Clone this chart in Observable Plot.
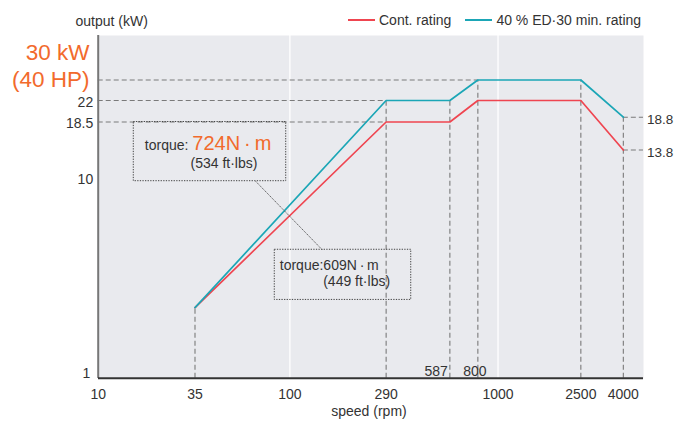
<!DOCTYPE html>
<html>
<head>
<meta charset="utf-8">
<script src="https://cdn.jsdelivr.net/npm/d3@7"></script>
<script src="https://cdn.jsdelivr.net/npm/@observablehq/plot@0.6"></script>
<style>
  body { margin: 0; background: #fff; font-family: "Liberation Sans", Arial, sans-serif; }
  #chart { position: relative; width: 674px; height: 423px; }
  .legend { position: absolute; top: 11.5px; left: 348px; display: flex; align-items: center;
            font-size: 14px; line-height: 16px; color: #333; white-space: nowrap; }
  .legend .sw { display: inline-block; width: 27px; height: 2px; margin-right: 4px; }
  .legend .item { display: flex; align-items: center; margin-right: 14px; }
</style>
</head>
<body>
<div id="chart"></div>
<script>
// Output curves of the spindle motor (log speed vs. log output)
const speedTicks = [10, 35, 100, 290, 1000, 2500, 4000];
const cornerSpeedLabels = [587, 800];
const outputTicks = [10, 18.5, 22];
const outputBase = 1;
const ratedOutput = 30;             // kW (40 HP)
const gridSpeeds = [100, 1000];

const seriesNames = ["Cont. rating", "40 % ED·30 min. rating"];
const seriesColors = ["#ef4550", "#1ba6b6"];
const speed      = [35, 290, 587, 800, 2500, 4000];
const contRating = [2.25, 18.5, 18.5, 22, 22, 13.8];
const edRating   = [2.25, 22, 22, 30, 30, 18.8];
const endLabels  = [edRating[5], contRating[5]];

const orange = "#f26a2c";
const ink = "#333";
const guide = {stroke: "#7a7a7a", strokeWidth: 1.1, strokeDasharray: "5,3"};

const rows = speed.flatMap((s, i) => [
  {speed: s, kW: contRating[i], series: seriesNames[0]},
  {speed: s, kW: edRating[i], series: seriesNames[1]}
]);

// dashed guides from the y axis to the corner points
const leftGuides = [
  {kW: contRating[1], to: speed[1]},
  {kW: edRating[1], to: speed[1]},
  {kW: edRating[3], to: speed[3]}
];
// dashed guides from the corner points down to the x axis
const dropGuides = speed.map((s, i) => ({speed: s, kW: edRating[i]}));

const xMin = 10, xMax = 5000;

// torque call-out boxes (in speed / output units)
const torqueBoxes = [
  {x1: 15.85, x2: 96, y1: 9.64, y2: 18.5},
  {x1: 84.6, x2: 382.8, y1: 2.46, y2: 4.38}
];
const leader = [{x1: 68.4, y1: 9.64, x2: 143, y2: 4.38}];

const boxText = (box, text, dx, dy, extra = {}) =>
  Plot.text([box], {x: "x1", y: "y2", text: () => text, textAnchor: "start",
    lineAnchor: "bottom", dx, dy, fontSize: 14, fill: ink, ...extra});

const chart = Plot.plot({
  width: 674,
  height: 423,
  marginTop: 35,
  marginBottom: 45,
  marginLeft: 98,
  marginRight: 31,
  style: {fontFamily: "'Liberation Sans', Arial, sans-serif", fontSize: "14px", color: ink, background: "#fff"},
  x: {type: "log", axis: null, domain: [xMin, 35, xMax], range: [97.7, 194.5, 643]},
  y: {type: "log", axis: null,
      domain: [outputBase, 13.8, 18.5, 18.8, 22, 30, 50],
      range: [377.7, 149.5, 121.5, 116.7, 100, 79.5, 35]},
  color: {domain: seriesNames, range: seriesColors},
  marks: [
    Plot.frame({fill: "#e9eaee", stroke: null}),
    Plot.ruleX(gridSpeeds, {stroke: "#fff", strokeWidth: 1.3}),

    Plot.ruleY(leftGuides, {y: "kW", x1: () => xMin, x2: "to", ...guide}),
    Plot.ruleX(dropGuides, {x: "speed", y1: () => outputBase, y2: "kW", ...guide}),
    Plot.ruleY(endLabels, {y: d => d, x1: () => speed[5], x2: () => xMax, ...guide}),

    Plot.line(rows, {x: "speed", y: "kW", z: "series", stroke: "series", strokeWidth: 1.7}),

    // axis lines
    Plot.ruleX([xMin], {stroke: "#777", strokeWidth: 2}),
    Plot.ruleY([outputBase], {stroke: ink, strokeWidth: 2}),

    // x tick labels
    Plot.text(speedTicks, {x: d => d, y: () => outputBase, text: d => String(d),
      lineAnchor: "top", dy: 10.5, fontSize: 14, fill: ink}),
    Plot.text(["speed (rpm)"], {frameAnchor: "bottom", lineAnchor: "bottom", dy: 37, dx: -2,
      fontSize: 14, fill: ink}),
    Plot.text([cornerSpeedLabels[0]], {x: d => d, y: () => outputBase, text: d => String(d),
      textAnchor: "end", lineAnchor: "bottom", dx: -2, dy: -2.7, fontSize: 14, fill: ink}),
    Plot.text([cornerSpeedLabels[1]], {x: d => d, y: () => outputBase, text: d => String(d),
      textAnchor: "middle", lineAnchor: "bottom", dx: -3, dy: -2.7, fontSize: 14, fill: ink}),

    // y tick labels
    Plot.text(outputTicks, {x: () => xMin, y: d => d, text: d => String(d),
      textAnchor: "end", dx: -5, dy: 2, fontSize: 14, fill: ink}),
    Plot.text([outputBase], {x: () => xMin, y: d => d, text: d => String(d),
      textAnchor: "end", dx: -8, dy: -5, fontSize: 14, fill: ink}),
    Plot.text([ratedOutput], {y: d => d, frameAnchor: "left", text: () => "30 kW\n(40 HP)",
      textAnchor: "end", lineAnchor: "bottom", lineHeight: 1.16, dx: -9, dy: 6.5,
      fontSize: 22.5, fill: orange}),
    Plot.text(["output (kW)"], {frameAnchor: "top-left", textAnchor: "start", lineAnchor: "bottom",
      dx: -23, dy: -10, fontSize: 14, fill: ink}),

    Plot.text(endLabels, {x: () => xMax, y: d => d, text: d => String(d), textAnchor: "start",
      dx: 3.5, dy: 2.5, fontSize: 13.5, fill: ink}),

    // torque call-outs
    Plot.rect(torqueBoxes, {x1: "x1", x2: "x2", y1: "y1", y2: "y2", fill: "none",
      stroke: "#444", strokeWidth: 1, strokeDasharray: "1.3,1.3"}),
    Plot.link(leader, {x1: "x1", y1: "y1", x2: "x2", y2: "y2", stroke: "#555",
      strokeWidth: 0.9, strokeDasharray: "1.5,0.8"}),
    boxText(torqueBoxes[0], "torque:", 11, 27.5),
    boxText(torqueBoxes[0], "724N\u2009·\u2009m", 58.5, 27.5, {fontSize: 20, fill: orange}),
    boxText(torqueBoxes[0], "(534 ft·lbs)", 56.7, 46),
    boxText(torqueBoxes[1], "torque:609N\u2009·\u2009m", 5, 20),
    boxText(torqueBoxes[1], "(449 ft·lbs)", 48.4, 36.7)
  ]
});

const host = document.getElementById("chart");
host.appendChild(chart);

const legend = document.createElement("div");
legend.className = "legend";
seriesNames.forEach((name, i) => {
  const item = document.createElement("span");
  item.className = "item";
  const sw = document.createElement("span");
  sw.className = "sw";
  sw.style.background = seriesColors[i];
  item.appendChild(sw);
  item.appendChild(document.createTextNode(name));
  legend.appendChild(item);
});
host.appendChild(legend);
</script>
</body>
</html>
